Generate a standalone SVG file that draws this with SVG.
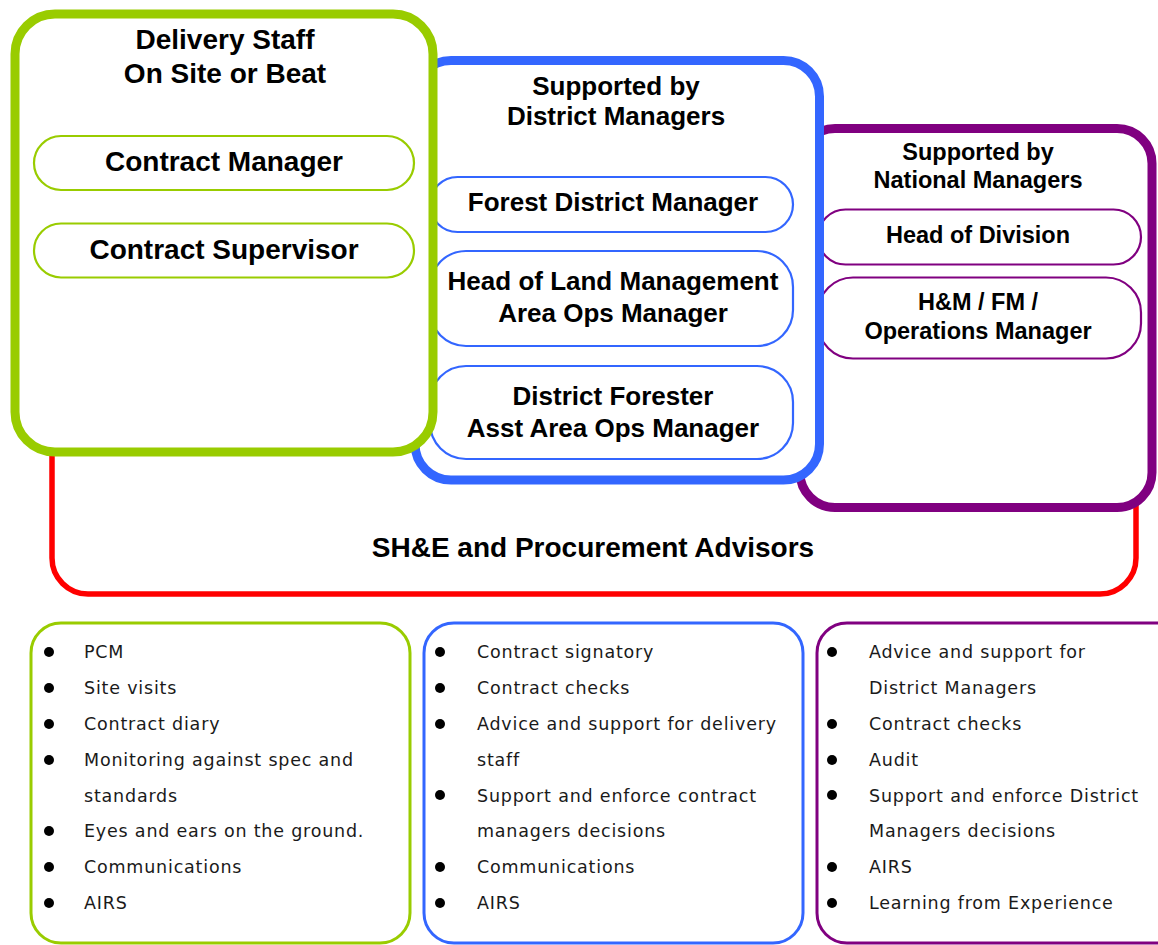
<svg xmlns="http://www.w3.org/2000/svg" width="1158" height="945" viewBox="0 0 1158 945">
<style>
.big{fill:#fff;stroke-width:9}
.pill{fill:#fff;stroke-width:2.2}
.g{stroke:#99CC00}.b{stroke:#3366FF}.p{stroke:#800080}.r{stroke:#FF0000}
.t{font-family:"Liberation Sans",Arial,sans-serif;font-weight:bold;fill:#000;text-anchor:middle}
.l{font-family:"DejaVu Sans",Verdana,sans-serif;font-size:17.5px;letter-spacing:0.8px;fill:#1a1a1a}
.list{fill:#fff;stroke-width:3}
</style>
<g id="red-box">
<rect class="big r" x="52" y="300" width="1084" height="294" rx="36" style="stroke-width:5.5"/>
<text class="t" x="593" y="557" font-size="28">SH&amp;E and Procurement Advisors</text>
</g>
<g id="purple-box">
<rect class="big p" x="800" y="128.5" width="352" height="379" rx="35"/>
<text class="t" x="978" y="160" font-size="23.5">Supported by</text>
<text class="t" x="978" y="188" font-size="23.5">National Managers</text>
</g>
<g id="head-division">
<rect class="pill p" x="818" y="209.5" width="323" height="55" rx="27.5"/>
<text class="t" x="978" y="243" font-size="23.5">Head of Division</text>
</g>
<g id="hm-fm">
<rect class="pill p" x="818" y="277.5" width="323" height="81" rx="35"/>
<text class="t" x="978" y="310" font-size="23.5">H&amp;M / FM /</text>
<text class="t" x="978" y="339" font-size="23.5">Operations Manager</text>
</g>
<g id="blue-box">
<rect class="big b" x="415" y="60.5" width="404.5" height="419.5" rx="36"/>
<text class="t" x="616" y="95" font-size="26">Supported by</text>
<text class="t" x="616" y="125" font-size="26">District Managers</text>
</g>
<g id="forest-district">
<rect class="pill b" x="430" y="177" width="363" height="55" rx="27.5"/>
<text class="t" x="613" y="211" font-size="26">Forest District Manager</text>
</g>
<g id="head-land">
<rect class="pill b" x="430" y="251" width="363" height="95" rx="36"/>
<text class="t" x="613" y="290" font-size="26">Head of Land Management</text>
<text class="t" x="613" y="322" font-size="26">Area Ops Manager</text>
</g>
<g id="district-forester">
<rect class="pill b" x="430" y="366" width="363" height="93" rx="36"/>
<text class="t" x="613" y="405" font-size="26">District Forester</text>
<text class="t" x="613" y="437" font-size="26">Asst Area Ops Manager</text>
</g>
<g id="green-box">
<rect class="big g" x="15" y="14" width="418" height="438" rx="40"/>
<text class="t" x="225" y="49" font-size="28">Delivery Staff</text>
<text class="t" x="225" y="83" font-size="28">On Site or Beat</text>
</g>
<g id="contract-manager">
<rect class="pill g" x="34" y="136" width="380" height="54" rx="27"/>
<text class="t" x="224" y="171" font-size="28">Contract Manager</text>
</g>
<g id="contract-supervisor">
<rect class="pill g" x="34" y="223.5" width="380" height="54" rx="27"/>
<text class="t" x="224" y="259" font-size="28">Contract Supervisor</text>
</g>
<g id="green-list">
<rect class="list g" x="31" y="623" width="379" height="320" rx="30"/>
<g fill="#000"><circle cx="49" cy="652" r="5"/><circle cx="49" cy="688" r="5"/><circle cx="49" cy="724" r="5"/><circle cx="49" cy="760" r="5"/><circle cx="49" cy="831" r="5"/><circle cx="49" cy="867" r="5"/><circle cx="49" cy="903" r="5"/></g>
<text class="l" x="84" y="658">PCM</text>
<text class="l" x="84" y="694">Site visits</text>
<text class="l" x="84" y="730">Contract diary</text>
<text class="l" x="84" y="766">Monitoring against spec and</text>
<text class="l" x="84" y="802">standards</text>
<text class="l" x="84" y="837">Eyes and ears on the ground.</text>
<text class="l" x="84" y="873">Communications</text>
<text class="l" x="84" y="909">AIRS</text>
</g>
<g id="blue-list">
<rect class="list b" x="424" y="623" width="379" height="320" rx="30"/>
<g fill="#000"><circle cx="440" cy="652" r="5"/><circle cx="440" cy="688" r="5"/><circle cx="440" cy="724" r="5"/><circle cx="440" cy="795" r="5"/><circle cx="440" cy="867" r="5"/><circle cx="440" cy="903" r="5"/></g>
<text class="l" x="477" y="658">Contract signatory</text>
<text class="l" x="477" y="694">Contract checks</text>
<text class="l" x="477" y="730">Advice and support for delivery</text>
<text class="l" x="477" y="766">staff</text>
<text class="l" x="477" y="802">Support and enforce contract</text>
<text class="l" x="477" y="837">managers decisions</text>
<text class="l" x="477" y="873">Communications</text>
<text class="l" x="477" y="909">AIRS</text>
</g>
<g id="purple-list">
<rect class="list p" x="817" y="623" width="370" height="320" rx="30"/>
<g fill="#000"><circle cx="832" cy="652" r="5"/><circle cx="832" cy="724" r="5"/><circle cx="832" cy="760" r="5"/><circle cx="832" cy="795" r="5"/><circle cx="832" cy="867" r="5"/><circle cx="832" cy="903" r="5"/></g>
<text class="l" x="869" y="658">Advice and support for</text>
<text class="l" x="869" y="694">District Managers</text>
<text class="l" x="869" y="730">Contract checks</text>
<text class="l" x="869" y="766">Audit</text>
<text class="l" x="869" y="802">Support and enforce District</text>
<text class="l" x="869" y="837">Managers decisions</text>
<text class="l" x="869" y="873">AIRS</text>
<text class="l" x="869" y="909">Learning from Experience</text>
</g>
<g id="connectors"/>
</svg>
